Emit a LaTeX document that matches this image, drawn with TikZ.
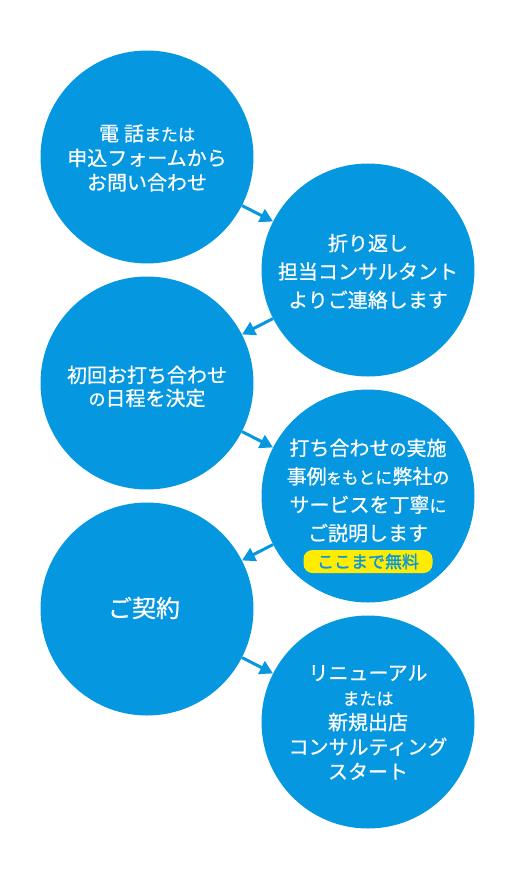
\documentclass[tikz,border=0pt]{standalone}
\usepackage{fontspec}
\setmainfont{Noto Sans CJK JP}[FakeBold=0.7]
\newfontfamily\badgefont{Noto Sans CJK JP}[FakeBold=1.6]
\usetikzlibrary{arrows.meta}
\definecolor{cblue}{RGB}{5,151,224}
\definecolor{cyel}{RGB}{255,236,0}
\newcommand{\sm}[1]{{\fontsize{17}{17}\selectfont #1}}
\newcommand{\xs}[1]{{\fontsize{15}{15}\selectfont #1}}
\begin{document}
\begin{tikzpicture}[x=1pt,y=-1pt,
  stepcircle/.style={circle,fill=cblue,minimum size=213pt,inner sep=0pt},
  lbl/.style={text=white,align=center,inner sep=0pt,font=\fontsize{20}{24.5}\selectfont},
  lblwide/.style={lbl,font=\fontsize{20}{28.4}\selectfont},
  arr/.style={draw=cblue,line width=3pt,-{Triangle[length=13pt,width=14pt]}},
  badge/.style={fill=cyel,rounded corners=9pt,minimum width=129pt,minimum height=23pt,inner sep=0pt,text=cblue,font=\badgefont\fontsize{17}{17}\selectfont}]
\useasboundingbox (0,0) rectangle (515,878);
\node[stepcircle] (c1) at (147,157) {};
\node[stepcircle] (c2) at (368,270) {};
\node[stepcircle] (c3) at (147,383) {};
\node[stepcircle] (c4) at (368,496) {};
\node[stepcircle] (c5) at (147,609) {};
\node[stepcircle] (c6) at (368,722) {};
\draw[arr] (c1) -- (c2);
\draw[arr] (c2) -- (c3);
\draw[arr] (c3) -- (c4);
\draw[arr] (c4) -- (c5);
\draw[arr] (c5) -- (c6);
\node[lbl] (t1) at (147,158) {電\hspace{5pt}話\sm{または}\\申込フォームから\\お問い合わせ};
\node[lblwide] (t2) at (368,271.5) {折り返し\\担当コンサルタント\\よりご連絡します};
\node[lbl,font=\fontsize{20}{23}\selectfont] (t3) at (147,386.5) {初回お打ち合わせ\\\sm{の}日程を決定};
\node[lblwide] (t4) at (368,490.5) {打ち合わせ\sm{の}実施\\事例\xs{を}\sm{もとに}弊社\sm{の}\\サービスを丁寧\sm{に}\\ご説明します};
\node[badge] (b4) at (368,561.5) {ここまで無料};
\node[lbl,font=\fontsize{24}{24}\selectfont] (t5) at (144,608) {ご契約};
\node[lbl,font=\fontsize{20}{24.7}\selectfont] (t6) at (368,722.5) {リニューアル\\\sm{または}\\新規出店\\コンサルティング\\スタート};
\end{tikzpicture}
\end{document}
